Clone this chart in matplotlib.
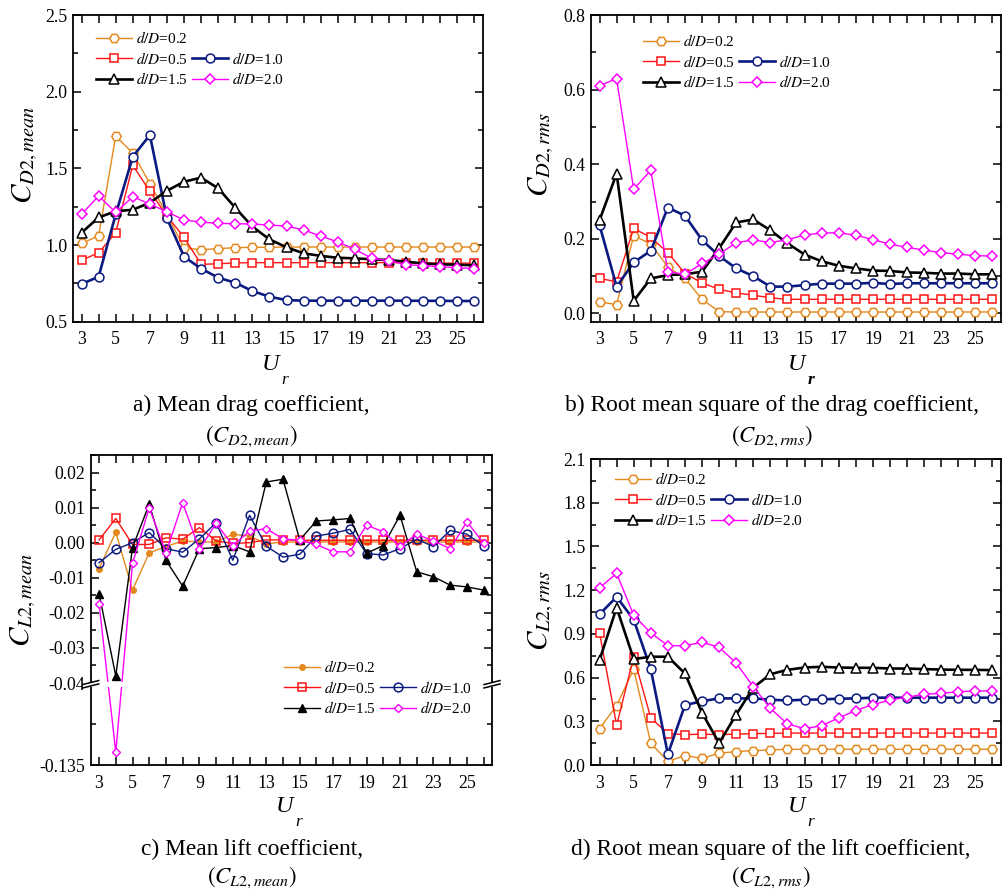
import numpy as np
import matplotlib
matplotlib.use('Agg')
import matplotlib.pyplot as plt
from matplotlib.lines import Line2D
from matplotlib.patches import Rectangle
from matplotlib.ticker import MultipleLocator, FixedLocator, FormatStrFormatter

plt.rcParams['font.family'] = ['Liberation Serif', 'DejaVu Serif']
plt.rcParams['mathtext.fontset'] = 'stix'

# ---------------- data ----------------
ur = [3, 4, 5, 6, 7, 8, 9, 10, 11, 12, 13, 14, 15, 16, 17, 18, 19, 20, 21, 22, 23, 24, 25, 26]
ratios = ['0.2', '0.5', '1.0', '1.5', '2.0']

# (a) C_D2,mean
cdm_02 = [1.01, 1.06, 1.71, 1.60, 1.40, 1.20, 0.98, 0.97, 0.976, 0.983, 0.985, 0.985, 0.987, 0.987,
          0.987, 0.987, 0.987, 0.987, 0.987, 0.987, 0.987, 0.987, 0.987, 0.987]
cdm_05 = [0.90, 0.95, 1.08, 1.52, 1.35, 1.19, 1.05, 0.874, 0.878, 0.883, 0.885, 0.885, 0.885, 0.885,
          0.885, 0.885, 0.885, 0.885, 0.885, 0.884, 0.883, 0.882, 0.882, 0.882]
cdm_10 = [0.746, 0.793, 1.20, 1.576, 1.717, 1.174, 0.924, 0.846, 0.787, 0.754, 0.70, 0.663, 0.641, 0.637,
          0.637, 0.637, 0.637, 0.637, 0.637, 0.637, 0.636, 0.636, 0.635, 0.635]
cdm_15 = [1.08, 1.18, 1.22, 1.23, 1.276, 1.354, 1.413, 1.439, 1.37, 1.243, 1.12, 1.037, 0.985, 0.946,
          0.929, 0.917, 0.913, 0.907, 0.902, 0.891, 0.88, 0.874, 0.872, 0.867]
cdm_20 = [1.20, 1.32, 1.213, 1.315, 1.267, 1.217, 1.163, 1.15, 1.141, 1.139, 1.137, 1.13, 1.124, 1.098,
          1.059, 1.02, 0.972, 0.913, 0.898, 0.872, 0.865, 0.859, 0.852, 0.846]

# (b) C_D2,rms
cdr_02 = [0.031, 0.024, 0.209, 0.186, 0.125, 0.094, 0.038, 0.005, 0.004, 0.004, 0.004, 0.004, 0.004, 0.004,
          0.004, 0.004, 0.004, 0.004, 0.004, 0.004, 0.004, 0.004, 0.004, 0.004]
cdr_05 = [0.094, 0.085, 0.228, 0.204, 0.163, 0.107, 0.082, 0.065, 0.055, 0.049, 0.042, 0.038, 0.038, 0.038,
          0.038, 0.038, 0.038, 0.038, 0.038, 0.038, 0.038, 0.038, 0.038, 0.038]
cdr_10 = [0.237, 0.072, 0.137, 0.168, 0.284, 0.262, 0.197, 0.154, 0.121, 0.10, 0.072, 0.072, 0.076, 0.08,
          0.08, 0.08, 0.082, 0.079, 0.081, 0.081, 0.081, 0.081, 0.081, 0.081]
cdr_15 = [0.25, 0.375, 0.034, 0.094, 0.103, 0.105, 0.112, 0.175, 0.244, 0.252, 0.223, 0.188, 0.158, 0.14,
          0.128, 0.121, 0.115, 0.114, 0.11, 0.109, 0.107, 0.107, 0.105, 0.105]
cdr_20 = [0.611, 0.629, 0.333, 0.384, 0.112, 0.105, 0.134, 0.159, 0.19, 0.197, 0.19, 0.198, 0.21, 0.216,
          0.216, 0.21, 0.198, 0.186, 0.177, 0.17, 0.163, 0.159, 0.155, 0.154]

# (c) C_L2,mean
clm_02 = [-0.0074, 0.003, -0.0135, -0.0029, -0.0011, 0.0005, 0.0002, 0.0002, 0.0024, 0.0019, -0.0003, 0.0002,
          0.0002, 0.0002, 0.0002, 0.0002, 0.0002, 0.0002, 0.0002, 0.0002, 0.0002, 0.0002, 0.0002, 0.0002]
clm_05 = [0.0008, 0.0069, -0.0005, -0.0005, 0.0014, 0.001, 0.0043, 0.0005, -0.0002, 0.0, 0.0008, 0.0008,
          0.0007, 0.0007, 0.0007, 0.0007, 0.0007, 0.0007, 0.0007, 0.0007, 0.0007, 0.0007, 0.0007, 0.0007]
clm_10 = [-0.0057, -0.0019, 0.0, 0.0029, -0.0017, -0.0027, 0.0011, 0.0057, -0.005, 0.0078, -0.001, -0.0041,
          -0.0033, 0.0019, 0.0027, 0.0038, -0.0031, -0.0035, -0.0017, 0.001, -0.0011, 0.0035, 0.0024, -0.0008]
clm_15 = [-0.0145, -0.038, -0.0014, 0.011, -0.005, -0.0124, -0.0017, -0.0014, -0.0008, -0.0026, 0.0173, 0.0181,
          0.0008, 0.0062, 0.0065, 0.0069, -0.003, -0.0008, 0.0078, -0.0083, -0.0097, -0.0121, -0.0126, -0.0135]
clm_20 = [-0.0174, -0.12, -0.0059, 0.010, -0.0029, 0.0114, -0.0019, 0.0055, -0.0008, 0.0033, 0.004, 0.0011,
          0.0007, -0.0005, -0.0026, -0.0026, 0.005, 0.0031, -0.001, 0.0024, 0.0005, -0.0017, 0.006, -0.0002]

# (d) C_L2,rms
clr_02 = [0.25, 0.408, 0.658, 0.15, 0.025, 0.065, 0.046, 0.081, 0.092, 0.099, 0.104, 0.108, 0.108, 0.108,
          0.108, 0.108, 0.108, 0.108, 0.108, 0.108, 0.108, 0.108, 0.108, 0.108]
clr_05 = [0.907, 0.272, 0.743, 0.323, 0.215, 0.208, 0.212, 0.208, 0.212, 0.215, 0.217, 0.219, 0.219, 0.219,
          0.219, 0.219, 0.219, 0.219, 0.219, 0.219, 0.219, 0.219, 0.219, 0.219]
clr_10 = [1.034, 1.154, 0.997, 0.658, 0.074, 0.411, 0.438, 0.457, 0.457, 0.457, 0.448, 0.443, 0.448, 0.45,
          0.455, 0.457, 0.462, 0.462, 0.462, 0.462, 0.462, 0.462, 0.462, 0.462]
clr_15 = [0.72, 1.08, 0.727, 0.743, 0.743, 0.628, 0.358, 0.15, 0.346, 0.531, 0.623, 0.653, 0.669, 0.674,
          0.669, 0.667, 0.667, 0.662, 0.662, 0.658, 0.655, 0.653, 0.653, 0.651]
clr_20 = [1.216, 1.315, 1.027, 0.907, 0.819, 0.819, 0.842, 0.808, 0.699, 0.538, 0.388, 0.282, 0.249, 0.27,
          0.323, 0.374, 0.415, 0.445, 0.466, 0.485, 0.492, 0.503, 0.508, 0.508]

# ---------------- styles ----------------
ORANGE = '#E3891E'
RED = '#FF1414'
NAVY = '#0B1A80'
MAG = '#FF00FF'

style_open = {
    '0.2': dict(color=ORANGE, marker='H', ms=6.8, mfc='white', lw=1.0, mew=1.1),
    '0.5': dict(color=RED, marker='s', ms=5.2, mfc='white', lw=1.0, mew=1.1),
    '1.0': dict(color=NAVY, marker='o', ms=6.4, mfc='white', lw=1.9, mew=1.1),
    '1.5': dict(color='black', marker='^', ms=7.8, mfc='white', lw=1.9, mew=1.1),
    '2.0': dict(color=MAG, marker='D', ms=5.4, mfc='white', lw=1.0, mew=1.1),
}
style_c = {
    '0.2': dict(color=ORANGE, marker='o', ms=4.0, mfc=ORANGE, lw=1.0, mew=1.0),
    '0.5': dict(color=RED, marker='s', ms=6.0, mfc='none', lw=1.0, mew=1.1),
    '1.0': dict(color=NAVY, marker='o', ms=6.3, mfc='none', lw=1.0, mew=1.1),
    '1.5': dict(color='black', marker='^', ms=6.0, mfc='black', lw=1.0, mew=1.0),
    '2.0': dict(color=MAG, marker='D', ms=4.4, mfc='white', lw=1.0, mew=1.0),
}

W, H = 1008, 892
fig = plt.figure(figsize=(W / 100, H / 100), dpi=100)


def rect(l, t, r, b):
    return [l / W, 1 - b / H, (r - l) / W, (b - t) / H]


def style_axes(ax):
    for s in ax.spines.values():
        s.set_linewidth(1.3)
    ax.set_xlim(2.5, 26.5)
    ax.xaxis.set_major_locator(FixedLocator(list(range(3, 26, 2))))
    ax.xaxis.set_minor_locator(FixedLocator(list(range(4, 27, 2))))
    ax.tick_params(which='both', direction='in', top=True, right=True, width=1.1, labelsize=12.8)
    ax.tick_params(which='major', length=6)
    ax.tick_params(which='minor', length=6)
    ax.tick_params(axis='y', which='minor', length=3.5)
    ax.tick_params(axis='x', pad=7)
    ax.tick_params(axis='y', pad=4)


def add_legend(ax, handles, x_px, y_px):
    blank = Line2D([], [], linestyle='none', marker=None)
    hs = [handles['0.2'], handles['0.5'], handles['1.5'], blank, handles['1.0'], handles['2.0']]
    labels = [r'$d/D$=0.2', r'$d/D$=0.5', r'$d/D$=1.5', '', r'$d/D$=1.0', r'$d/D$=2.0']
    fig.legend(hs, labels, loc='upper left', bbox_to_anchor=(x_px / W, 1 - y_px / H),
               bbox_transform=fig.transFigure, ncol=2, frameon=False, fontsize=11,
               borderpad=0, borderaxespad=0, handlelength=2.35, handletextpad=0.26,
               columnspacing=0.3, labelspacing=0.3)


def draw_panel(ax, series, styles):
    handles = {}
    for key in ratios:
        ln, = ax.plot(ur, series[key], **styles[key])
        handles[key] = ln
    return handles


def ylabel(x, y, sub):
    fig.text(x / W, 1 - y / H, r'$C_{%s}$' % sub, rotation=90, ha='center', va='center', fontsize=21)


def xlabel(x, y, bold_r=False):
    fig.text(x / W, 1 - y / H, 'U', fontstyle='italic', fontsize=17.5, ha='center', va='center')
    fig.text((x + 14) / W, 1 - (y + 15) / H, 'r', fontstyle='italic', fontsize=12.5, ha='center',
             va='center', fontweight='bold' if bold_r else 'normal')


def caption(x, y, line1, line2, gap=31):
    fig.text(x / W, 1 - y / H, line1, fontsize=16.8, ha='center', va='center')
    fig.text(x / W, 1 - (y + gap) / H, line2, fontsize=16.5, ha='center', va='center')


# ---------------- panel a ----------------
axa = fig.add_axes(rect(73, 15, 483, 321.7))
style_axes(axa)
ha = draw_panel(axa, {'0.2': cdm_02, '0.5': cdm_05, '1.0': cdm_10, '1.5': cdm_15, '2.0': cdm_20}, style_open)
axa.set_ylim(0.5, 2.5)
axa.yaxis.set_major_locator(MultipleLocator(0.5))
axa.yaxis.set_minor_locator(MultipleLocator(0.25))
axa.yaxis.set_major_formatter(FormatStrFormatter('%.1f'))
add_legend(axa, ha, 96, 30)
ylabel(25, 155, 'D2,mean')
xlabel(271, 365)
caption(251, 405, 'a) Mean drag coefficient,', r'$(C_{D2,mean})$')

# ---------------- panel b ----------------
axb = fig.add_axes(rect(591, 15, 1001, 321.7))
style_axes(axb)
hb = draw_panel(axb, {'0.2': cdr_02, '0.5': cdr_05, '1.0': cdr_10, '1.5': cdr_15, '2.0': cdr_20}, style_open)
axb.set_ylim(-0.022, 0.8)
axb.yaxis.set_major_locator(MultipleLocator(0.2))
axb.yaxis.set_minor_locator(MultipleLocator(0.1))
axb.yaxis.set_major_formatter(FormatStrFormatter('%.1f'))
add_legend(axb, hb, 643, 33)
ylabel(541, 155, 'D2,rms')
xlabel(797, 365, bold_r=True)
caption(772, 405, 'b) Root mean square of the drag coefficient,', r'$(C_{D2,rms})$')

# ---------------- panel c (broken axis) ----------------
K = 0.246
BRK = -0.04


def fwd(y):
    y = np.asarray(y, dtype=float)
    return np.where(y >= BRK, y, BRK + (y - BRK) * K)


def inv(t):
    t = np.asarray(t, dtype=float)
    return np.where(t >= BRK, t, BRK + (t - BRK) / K)


axc = fig.add_axes(rect(90.7, 455, 492, 765))
style_axes(axc)
axc.set_yscale('function', functions=(fwd, inv))
hc = draw_panel(axc, {'0.2': clm_02, '0.5': clm_05, '1.0': clm_10, '1.5': clm_15, '2.0': clm_20}, style_c)
axc.set_ylim(-0.135, 0.025)
axc.yaxis.set_major_locator(FixedLocator([0.02, 0.01, 0.0, -0.01, -0.02, -0.03, -0.04, -0.135]))
axc.yaxis.set_major_formatter(matplotlib.ticker.FixedFormatter(
    ['0.02', '0.01', '0.00', '-0.01', '-0.02', '-0.03', '-0.04', '-0.135']))
axc.yaxis.set_minor_locator(FixedLocator([0.025, 0.015, 0.005, -0.005, -0.015, -0.025, -0.035, -0.0875]))
# break gap
t0 = float(fwd(-0.135)); t1 = float(fwd(0.025))
yb = (float(fwd(BRK)) - t0) / (t1 - t0)
axc.add_patch(Rectangle((0.0, yb - 0.014), 1.0, 0.016, transform=axc.transAxes,
                        facecolor='white', edgecolor='none', zorder=2.2))
for xs in (0.0, 1.0):
    axc.add_patch(Rectangle((xs - 0.02, yb - 0.014), 0.04, 0.016, transform=axc.transAxes,
                            facecolor='white', edgecolor='none', zorder=3, clip_on=False))
    for dy in (-0.011, 0.0):
        axc.plot([xs - 0.02, xs + 0.02], [yb + dy - 0.005, yb + dy + 0.008], color='black', lw=1.1,
                 transform=axc.transAxes, clip_on=False, zorder=4)
add_legend(axc, hc, 284, 659)
ylabel(23, 600, 'L2,mean')
xlabel(285, 807)
caption(252, 849, 'c) Mean lift coefficient,', r'$(C_{L2,mean})$', gap=28)

# ---------------- panel d ----------------
axd = fig.add_axes(rect(591, 459, 1001, 765))
style_axes(axd)
hd = draw_panel(axd, {'0.2': clr_02, '0.5': clr_05, '1.0': clr_10, '1.5': clr_15, '2.0': clr_20}, style_open)
axd.set_ylim(0.0, 2.1)
axd.yaxis.set_major_locator(MultipleLocator(0.3))
axd.yaxis.set_minor_locator(MultipleLocator(0.15))
axd.yaxis.set_major_formatter(FormatStrFormatter('%.1f'))
add_legend(axd, hd, 615, 471)
ylabel(541, 610, 'L2,rms')
xlabel(797, 807)
caption(771, 849, 'd) Root mean square of the lift coefficient,', r'$(C_{L2,rms})$', gap=28)

fig.savefig('out.png', dpi=100)
